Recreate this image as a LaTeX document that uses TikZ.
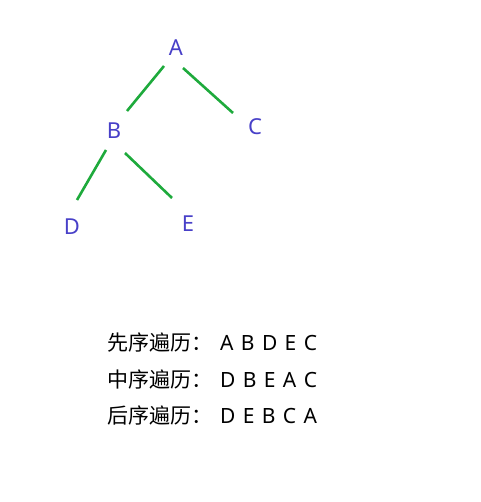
\documentclass[tikz,border=0pt]{standalone}
\usepackage{fontspec}
\usepackage{xcolor}
\usepackage{tikz}
\usetikzlibrary{positioning}
\setmainfont{Noto Sans}
\newfontfamily\cjkfont{Noto Sans CJK SC}
\newfontfamily\seqfont[WordSpace=1.35]{Noto Sans}
\definecolor{letterblue}{RGB}{72,64,200}
\definecolor{edgegreen}{RGB}{30,170,60}

\begin{document}
\begin{tikzpicture}[
		x=1pt,
		y=1pt,
		font=\fontsize{22pt}{24pt}\selectfont
	]
		\tikzset{treenode/.style={
			text=letterblue,
			inner sep=0,
		}}
		\tikzset{edge/.style={
			draw=edgegreen,
			line width=2.6,
		}}
		\tikzset{walk/.style={
			anchor=base west,
			inner sep=0,
			font=\cjkfont\fontsize{21pt}{23pt}\selectfont,
		}}
		\tikzset{seq/.style={
			anchor=base west,
			inner sep=0,
			font=\seqfont\fontsize{21pt}{23pt}\selectfont,
		}}

		\useasboundingbox (0,0) rectangle (480,-502);

		\node[treenode] (A) at (176,-48) {A};
		\node[treenode] (B) at (114,-131) {B};
		\node[treenode] (C) at (255,-127) {C};
		\node[treenode] (D) at (72,-227) {D};
		\node[treenode] (E) at (188,-224) {E};

		\draw[edge] ([shift={(-12,-18)}]A.center) -- ([shift={(13,20)}]B.center);
		\draw[edge] ([shift={(7,-20)}]A.center) -- ([shift={(-22,14)}]C.center);
		\draw[edge] ([shift={(-8,-19)}]B.center) -- ([shift={(5,27)}]D.center);
		\draw[edge] ([shift={(11,-22)}]B.center) -- ([shift={(-16,26)}]E.center);

		\node[walk] (pre) at (107,-350) {先序遍历：};
		\node[seq] (preseq) at (220,-350) {A B D E C};
		\node[walk] (in) at (107,-387) {中序遍历：};
		\node[seq] (inseq) at (220,-387) {D B E A C};
		\node[walk] (post) at (107,-423) {后序遍历：};
		\node[seq] (postseq) at (220,-423) {D E B C A};
	\end{tikzpicture}
\end{document}
